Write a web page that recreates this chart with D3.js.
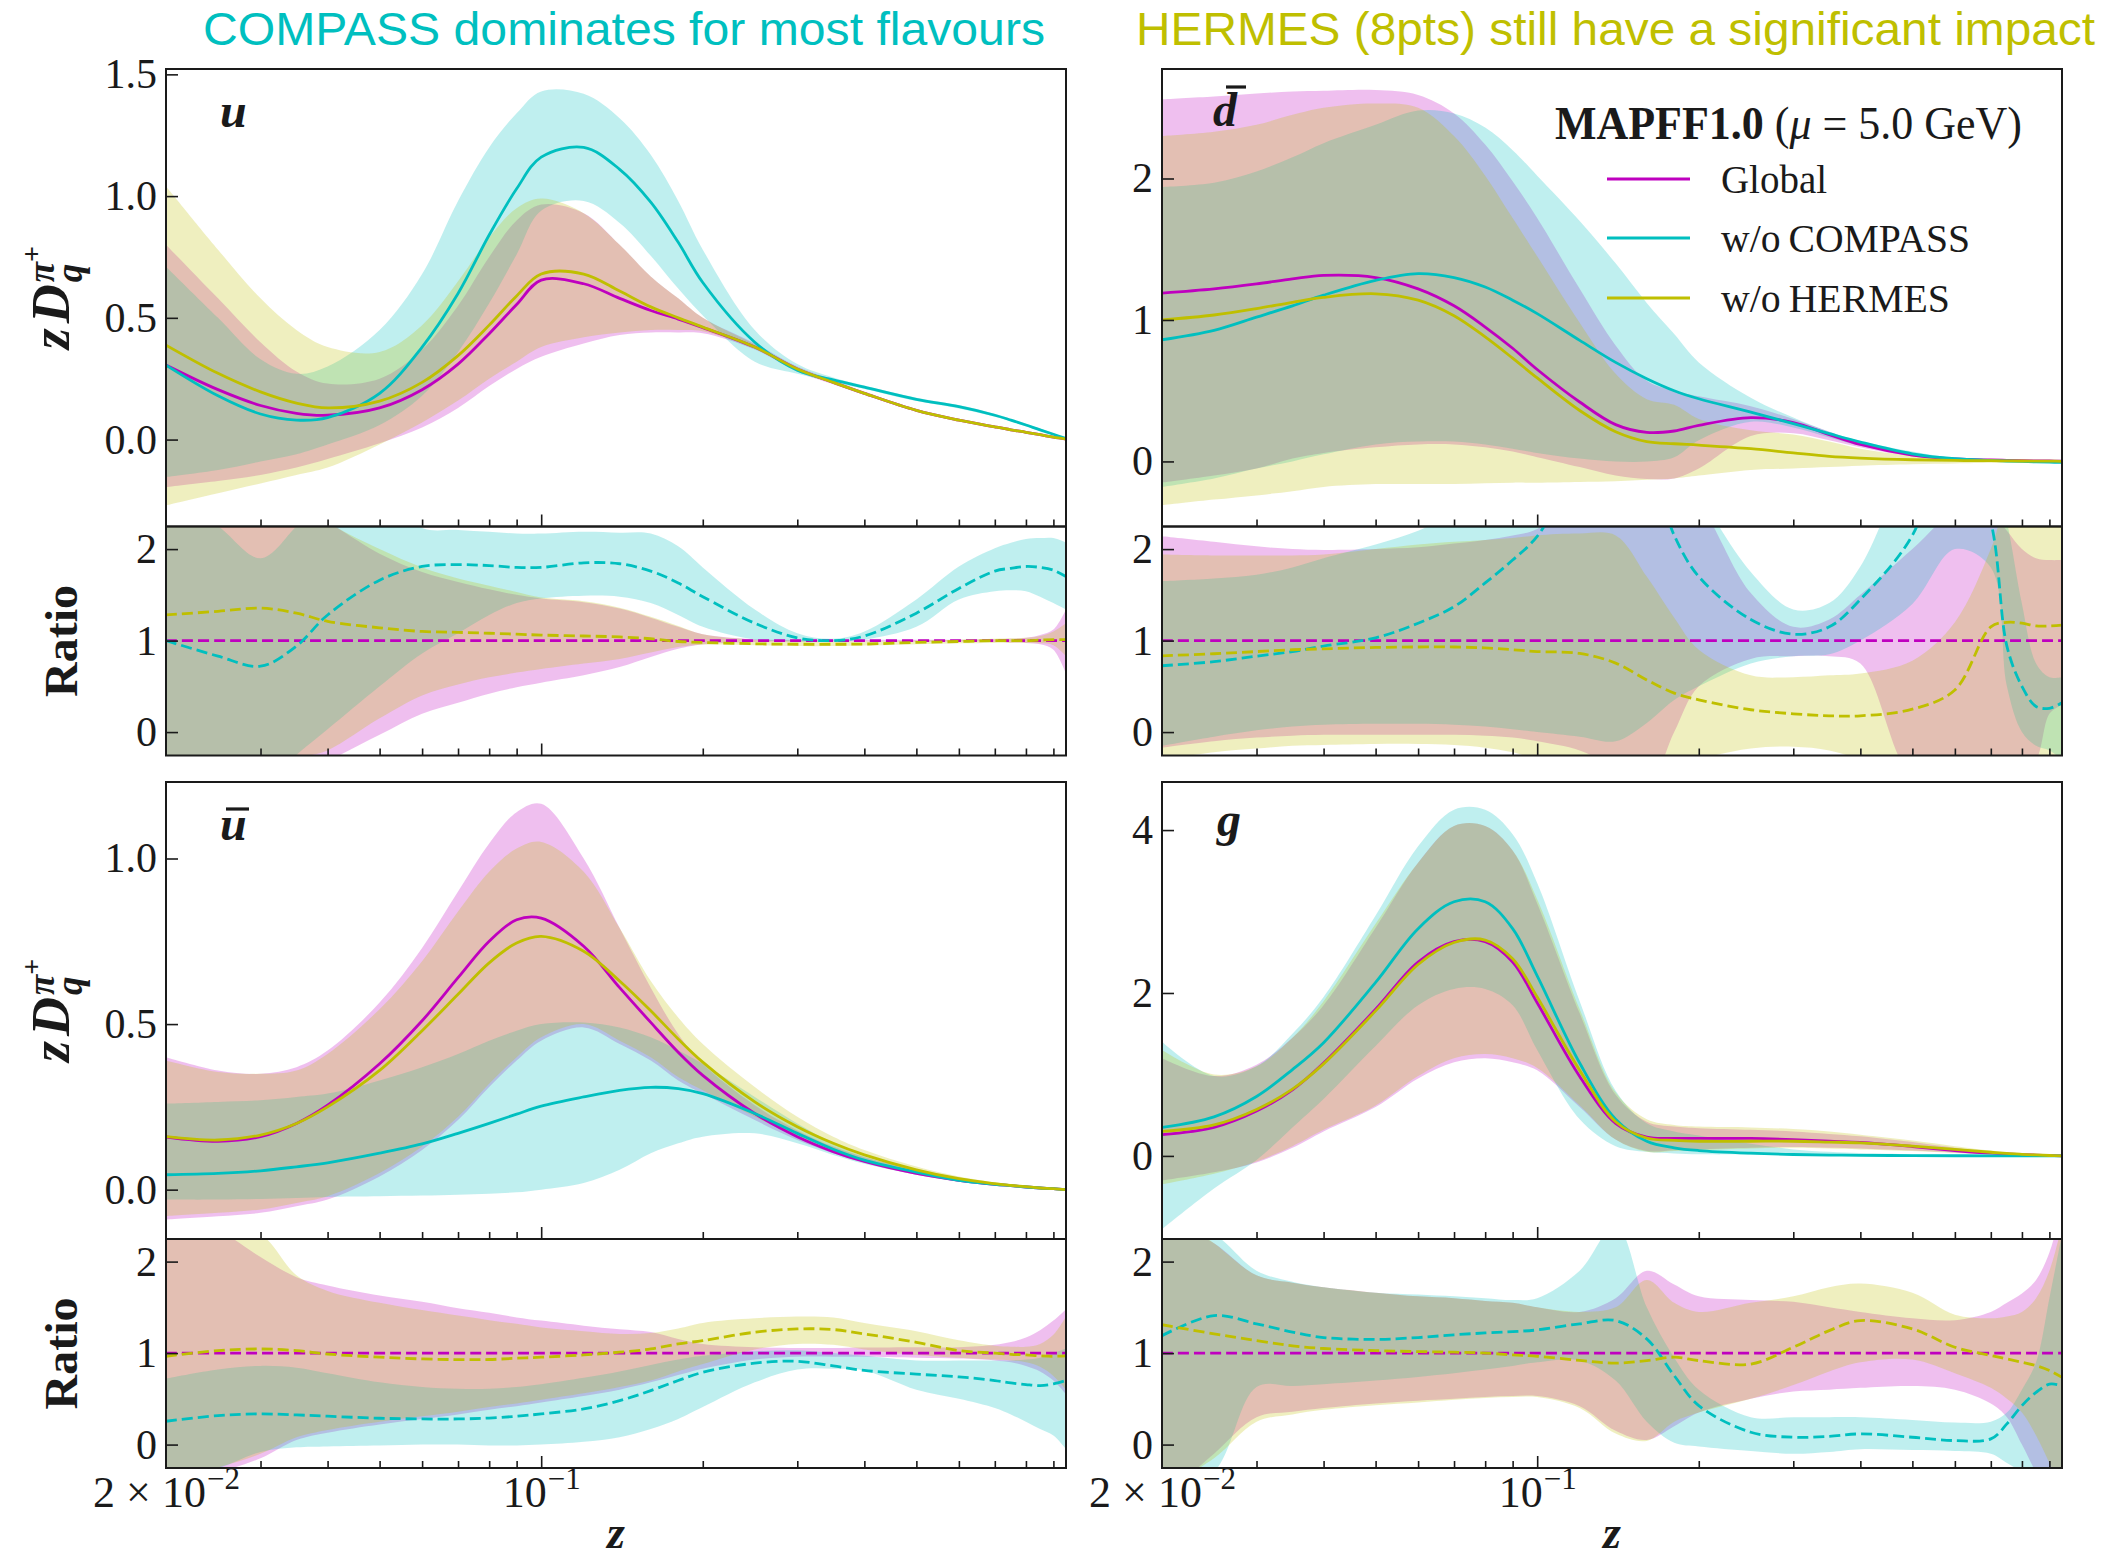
<!DOCTYPE html>
<html>
<head>
<meta charset="utf-8">
<script src="https://cdn.jsdelivr.net/npm/d3@7"></script>
<style>
  html, body { margin: 0; padding: 0; background: #ffffff; }
  svg { display: block; }
</style>
</head>
<body>
<svg id="fig" width="2110" height="1559"></svg>
<script>
// ---------------------------------------------------------------------------
// Sampling grid in z (shared by every curve below)
// ---------------------------------------------------------------------------
const Z = [0.02,0.025,0.03,0.035,0.04,0.05,0.06,0.07,0.08,0.09,0.1,0.12,0.14,0.16,0.18,0.2,0.25,0.3,0.35,0.4,0.5,0.6,0.7,0.75,0.8,0.85,0.9,0.95];

// ---------------------------------------------------------------------------
// u : zD_u^{pi+}  (central value, lower and upper edge of the band)
// ---------------------------------------------------------------------------
const uGlobMid   = [0.306,0.205,0.14,0.108,0.10,0.13,0.205,0.31,0.435,0.555,0.655,0.64,0.58,0.53,0.495,0.46,0.38,0.29,0.235,0.19,0.12,0.08,0.052,0.04,0.03,0.02,0.01,0.002];
const uGlobLo    = [-0.195,-0.17,-0.145,-0.115,-0.08,-0.015,0.05,0.13,0.22,0.29,0.34,0.395,0.43,0.44,0.44,0.437,0.37,0.28,0.227,0.183,0.115,0.077,0.049,0.038,0.028,0.018,0.008,0.001];
const uGlobHi    = [0.80,0.58,0.40,0.28,0.23,0.25,0.37,0.55,0.75,0.90,0.965,0.93,0.80,0.67,0.58,0.50,0.395,0.30,0.245,0.197,0.125,0.083,0.055,0.042,0.032,0.022,0.012,0.003];
const uNoCompMid = [0.306,0.18,0.105,0.08,0.09,0.19,0.38,0.60,0.84,1.03,1.16,1.20,1.11,0.975,0.81,0.645,0.40,0.285,0.245,0.215,0.165,0.135,0.10,0.08,0.06,0.04,0.022,0.004];
const uNoCompLo  = [-0.154,-0.125,-0.09,-0.06,-0.02,0.06,0.18,0.36,0.56,0.76,0.94,0.98,0.89,0.755,0.62,0.51,0.32,0.27,0.235,0.208,0.158,0.128,0.094,0.075,0.055,0.035,0.019,0.003];
const uNoCompHi  = [0.71,0.5,0.33,0.27,0.3,0.45,0.68,0.98,1.2,1.34,1.43,1.42,1.32,1.17,0.98,0.78,0.45,0.31,0.255,0.222,0.172,0.142,0.106,0.085,0.065,0.045,0.025,0.005];
const uNoHermMid = [0.388,0.272,0.196,0.15,0.13,0.158,0.235,0.345,0.47,0.59,0.68,0.68,0.61,0.545,0.50,0.462,0.38,0.29,0.235,0.19,0.12,0.08,0.052,0.04,0.03,0.02,0.01,0.002];
const uNoHermLo  = [-0.27,-0.22,-0.18,-0.145,-0.115,-0.02,0.07,0.16,0.25,0.32,0.38,0.42,0.44,0.45,0.45,0.445,0.372,0.283,0.229,0.185,0.117,0.078,0.05,0.039,0.029,0.019,0.009,0.001];
const uNoHermHi  = [1.04,0.78,0.58,0.45,0.38,0.36,0.47,0.65,0.83,0.95,0.99,0.93,0.80,0.67,0.58,0.50,0.39,0.295,0.24,0.193,0.122,0.082,0.054,0.041,0.031,0.021,0.011,0.003];
// ratios to the global central value
const uGlobRMid   = [1,1,1,1,1,1,1,1,1,1,1,1,1,1,1,1,1,1,1,1,1,1,1,1,1,1,1,1];
const uGlobRLo    = [-0.6,-0.6,-0.6,-0.5,-0.32,-0.03,0.2,0.32,0.42,0.49,0.54,0.62,0.71,0.82,0.91,0.96,0.985,0.99,0.99,0.99,0.99,0.99,0.985,0.98,0.975,0.96,0.9,0.64];
const uGlobRHi    = [2.6,2.6,2.6,2.5,2.3,1.95,1.75,1.64,1.56,1.5,1.46,1.42,1.35,1.25,1.15,1.07,1.015,1.01,1.01,1.01,1.01,1.01,1.015,1.02,1.03,1.06,1.12,1.34];
const uNoCompRMid = [1.0,0.83,0.72,0.94,1.28,1.66,1.81,1.83,1.82,1.80,1.80,1.85,1.84,1.76,1.63,1.48,1.19,1.03,1.0,1.05,1.30,1.57,1.76,1.79,1.81,1.80,1.77,1.70];
const uNoCompRLo  = [-0.6,-0.6,-0.6,-0.25,0.03,0.5,0.86,1.08,1.28,1.41,1.46,1.49,1.48,1.41,1.28,1.15,1.01,0.99,0.99,1.01,1.15,1.45,1.54,1.55,1.54,1.48,1.41,1.34];
const uNoCompRHi  = [2.6,2.25,1.9,2.25,2.6,2.6,2.23,2.21,2.19,2.17,2.17,2.19,2.18,2.17,2.03,1.80,1.34,1.08,1.02,1.10,1.45,1.81,2.01,2.07,2.11,2.12,2.12,2.07];
const uNoHermRMid = [1.28,1.32,1.355,1.30,1.21,1.14,1.10,1.09,1.08,1.07,1.06,1.05,1.04,1.02,0.99,0.98,0.965,0.96,0.96,0.962,0.98,0.99,1.0,1.0,1.0,1.005,1.01,1.01];
const uNoHermRLo  = [-0.6,-0.6,-0.6,-0.3,-0.2,0.15,0.4,0.52,0.6,0.65,0.69,0.75,0.8,0.87,0.93,0.955,0.95,0.94,0.94,0.945,0.96,0.97,0.975,0.975,0.975,0.97,0.95,0.83];
const uNoHermRHi  = [2.6,2.6,2.6,2.6,2.3,2.0,1.8,1.68,1.6,1.53,1.47,1.43,1.36,1.26,1.16,1.07,1.01,1.0,0.99,0.99,1.0,1.01,1.02,1.025,1.03,1.05,1.1,1.19];

// ---------------------------------------------------------------------------
// dbar
// ---------------------------------------------------------------------------
const dGlobMid   = [1.19,1.22,1.255,1.29,1.315,1.30,1.22,1.10,0.95,0.80,0.65,0.42,0.26,0.205,0.215,0.255,0.31,0.275,0.19,0.12,0.045,0.018,0.01,0.008,0.006,0.004,0.003,0.002];
const dGlobLo    = [-0.15,-0.1,-0.05,0.02,0.06,0.1,0.12,0.12,0.1,0.07,0.03,-0.04,-0.1,-0.125,-0.12,-0.05,0.18,0.2,0.15,0.1,0.035,0.012,0.006,0.005,0.004,0.003,0.002,0.001];
const dGlobHi    = [2.56,2.58,2.60,2.615,2.62,2.625,2.59,2.46,2.24,1.98,1.72,1.22,0.82,0.57,0.50,0.46,0.39,0.30,0.21,0.135,0.055,0.022,0.012,0.009,0.007,0.005,0.004,0.003];
const dNoCompMid = [0.86,0.927,1.02,1.10,1.175,1.28,1.328,1.30,1.233,1.14,1.045,0.856,0.70,0.585,0.50,0.443,0.349,0.267,0.196,0.137,0.054,0.019,0.007,0.003,0.0,-0.003,-0.005,-0.007];
const dNoCompLo  = [-0.18,-0.12,-0.05,0.0,0.05,0.12,0.14,0.14,0.12,0.09,0.06,0.02,0.0,0.0,0.03,0.15,0.28,0.24,0.17,0.11,0.04,0.01,0.0,-0.003,-0.005,-0.007,-0.008,-0.008];
const dNoCompHi  = [1.94,1.97,2.05,2.15,2.25,2.38,2.48,2.46,2.36,2.2,2.02,1.7,1.4,1.12,0.9,0.70,0.45,0.31,0.21,0.145,0.07,0.025,0.01,0.006,0.005,0.002,0.0,-0.003];
const dNoHermMid = [1.0,1.035,1.08,1.125,1.16,1.185,1.14,1.03,0.88,0.73,0.59,0.36,0.21,0.14,0.125,0.115,0.09,0.06,0.036,0.024,0.012,0.007,0.005,0.004,0.003,0.002,0.002,0.001];
const dNoHermLo  = [-0.31,-0.27,-0.24,-0.21,-0.18,-0.16,-0.16,-0.16,-0.155,-0.15,-0.15,-0.145,-0.14,-0.13,-0.12,-0.1,-0.06,-0.05,-0.04,-0.03,-0.02,-0.015,-0.01,-0.008,-0.007,-0.005,-0.004,-0.003];
const dNoHermHi  = [2.30,2.33,2.38,2.45,2.50,2.53,2.50,2.30,2.02,1.72,1.45,0.98,0.62,0.44,0.40,0.30,0.22,0.19,0.14,0.09,0.04,0.018,0.01,0.008,0.006,0.004,0.003,0.002];
const dGlobRMid   = [1,1,1,1,1,1,1,1,1,1,1,1,1,1,1,1,1,1,1,1,1,1,1,1,1,1,1,1];
const dGlobRLo    = [-0.17,-0.1,-0.06,-0.04,-0.03,-0.03,-0.03,-0.03,-0.04,-0.06,-0.1,-0.2,-0.4,-0.6,0.0,0.5,0.8,0.83,0.83,0.75,-0.5,-0.6,-0.6,-0.5,-0.4,-0.3,0.2,0.3];
const dGlobRHi    = [2.14,2.08,2.03,2.0,1.99,2.0,2.02,2.06,2.1,2.15,2.22,2.6,3.0,3.0,2.7,2.5,1.52,1.15,1.23,1.5,2.0,2.4,2.4,2.2,2.0,1.9,1.88,1.88];
const dNoCompRMid = [0.725,0.77,0.83,0.88,0.94,1.03,1.19,1.37,1.63,1.88,2.14,2.9,3.3,3.0,2.15,1.70,1.23,1.07,1.15,1.45,2.15,3.4,2.3,0.94,0.5,0.28,0.26,0.32];
const dNoCompRLo  = [-0.15,-0.05,0.02,0.06,0.08,0.09,0.09,0.08,0.06,0.03,0.0,-0.05,-0.1,0.1,0.35,0.5,0.75,0.83,0.85,1.0,1.4,2.0,1.8,0.5,0.0,-0.15,-0.2,-0.3];
const dNoCompRHi  = [1.65,1.68,1.72,1.8,1.9,2.05,2.2,2.4,2.6,2.8,3.0,3.2,3.4,3.4,3.0,2.6,1.75,1.34,1.41,1.81,3.0,3.5,3.0,2.3,1.4,0.75,0.6,0.6];
const dNoHermRMid = [0.834,0.856,0.88,0.90,0.91,0.925,0.93,0.93,0.92,0.90,0.88,0.86,0.754,0.57,0.426,0.353,0.244,0.20,0.178,0.178,0.25,0.46,1.15,1.20,1.19,1.16,1.16,1.17];
const dNoHermRLo  = [-0.3,-0.22,-0.18,-0.15,-0.14,-0.13,-0.13,-0.14,-0.17,-0.22,-0.3,-0.4,-0.5,-0.5,-0.4,-0.3,-0.18,-0.16,-0.2,-0.3,-0.5,-0.6,-0.5,-0.4,-0.4,-0.4,-0.4,-0.4];
const dNoHermRHi  = [1.94,1.93,1.93,1.93,1.94,2.0,2.05,2.08,2.1,2.12,2.15,2.17,2.15,1.7,1.25,0.9,0.62,0.6,0.62,0.64,0.78,1.2,2.0,2.5,2.6,2.6,2.6,2.5];

// ---------------------------------------------------------------------------
// ubar
// ---------------------------------------------------------------------------
const ubGlobMid   = [0.159,0.146,0.16,0.2,0.255,0.38,0.51,0.64,0.75,0.815,0.82,0.735,0.61,0.505,0.415,0.345,0.23,0.16,0.115,0.085,0.049,0.028,0.016,0.012,0.008,0.005,0.003,0.0];
const ubGlobLo    = [-0.09,-0.08,-0.07,-0.05,-0.03,0.04,0.12,0.21,0.31,0.39,0.45,0.49,0.44,0.39,0.33,0.29,0.21,0.15,0.11,0.082,0.045,0.025,0.013,0.01,0.006,0.003,0.002,0.0];
const ubGlobHi    = [0.40,0.36,0.35,0.37,0.42,0.565,0.73,0.90,1.045,1.14,1.165,1.0,0.79,0.61,0.47,0.38,0.255,0.179,0.13,0.098,0.061,0.037,0.02,0.016,0.012,0.008,0.004,0.001];
const ubNoCompMid = [0.045,0.049,0.057,0.069,0.081,0.11,0.138,0.17,0.2,0.228,0.252,0.28,0.30,0.309,0.305,0.29,0.23,0.17,0.122,0.089,0.053,0.028,0.016,0.012,0.008,0.005,0.003,0.0];
const ubNoCompLo  = [-0.03,-0.03,-0.028,-0.025,-0.022,-0.02,-0.018,-0.015,-0.012,-0.008,0.0,0.02,0.06,0.11,0.14,0.16,0.17,0.14,0.105,0.078,0.045,0.024,0.013,0.01,0.006,0.003,0.002,0.0];
const ubNoCompHi  = [0.26,0.265,0.27,0.28,0.29,0.33,0.37,0.41,0.45,0.48,0.50,0.505,0.49,0.46,0.42,0.38,0.28,0.2,0.14,0.1,0.06,0.033,0.018,0.013,0.009,0.005,0.003,0.001];
const ubNoHermMid = [0.16,0.15,0.165,0.2,0.25,0.36,0.48,0.59,0.685,0.745,0.765,0.72,0.63,0.54,0.455,0.385,0.265,0.19,0.14,0.105,0.06,0.033,0.018,0.013,0.009,0.005,0.003,0.0];
const ubNoHermLo  = [-0.08,-0.07,-0.06,-0.04,-0.02,0.05,0.13,0.22,0.32,0.40,0.46,0.50,0.45,0.40,0.34,0.30,0.22,0.16,0.12,0.09,0.05,0.028,0.015,0.01,0.007,0.004,0.002,0.0];
const ubNoHermHi  = [0.39,0.355,0.35,0.36,0.41,0.545,0.69,0.84,0.96,1.03,1.05,0.96,0.79,0.63,0.52,0.44,0.31,0.22,0.16,0.12,0.07,0.04,0.022,0.015,0.01,0.006,0.003,0.0];
const ubGlobRMid   = [1,1,1,1,1,1,1,1,1,1,1,1,1,1,1,1,1,1,1,1,1,1,1,1,1,1,1,1];
const ubGlobRLo    = [-0.4,-0.3,-0.15,0.05,0.13,0.22,0.28,0.33,0.38,0.42,0.46,0.53,0.6,0.68,0.76,0.83,0.93,0.96,0.96,0.96,0.95,0.94,0.92,0.9,0.86,0.8,0.7,0.55];
const ubGlobRHi    = [2.6,2.35,2.05,1.83,1.74,1.63,1.56,1.49,1.44,1.39,1.355,1.30,1.26,1.23,1.155,1.10,1.064,1.056,1.055,1.06,1.064,1.064,1.09,1.12,1.17,1.25,1.355,1.48];
const ubNoCompRMid = [0.255,0.317,0.335,0.324,0.31,0.288,0.28,0.28,0.29,0.31,0.335,0.39,0.48,0.59,0.70,0.79,0.89,0.91,0.86,0.81,0.77,0.74,0.70,0.674,0.656,0.645,0.663,0.70];
const ubNoCompRLo  = [-0.4,-0.26,-0.08,-0.03,-0.02,-0.01,0.0,0.0,-0.01,-0.01,0.0,0.03,0.08,0.17,0.28,0.41,0.68,0.82,0.83,0.81,0.6,0.5,0.4,0.33,0.25,0.17,0.1,-0.05];
const ubNoCompRHi  = [0.72,0.82,0.86,0.84,0.78,0.68,0.63,0.61,0.61,0.63,0.66,0.73,0.8,0.87,0.93,0.97,1.02,1.03,1.0,0.97,0.92,0.92,0.92,0.92,0.93,0.95,1.0,1.05];
const ubNoHermRMid = [0.965,1.027,1.045,1.027,0.99,0.955,0.936,0.929,0.93,0.944,0.955,0.98,1.01,1.045,1.10,1.137,1.228,1.264,1.257,1.21,1.118,1.027,1.0,0.987,0.98,0.97,0.965,0.97];
const ubNoHermRLo  = [-0.4,-0.25,-0.1,0.08,0.16,0.25,0.31,0.36,0.41,0.45,0.49,0.56,0.63,0.7,0.8,0.88,1.04,1.1,1.09,1.04,0.98,0.95,0.93,0.92,0.9,0.85,0.75,0.6];
const ubNoHermRHi  = [2.6,2.4,2.3,1.85,1.68,1.55,1.47,1.41,1.36,1.32,1.28,1.24,1.21,1.22,1.27,1.33,1.38,1.40,1.39,1.33,1.24,1.14,1.08,1.07,1.07,1.1,1.2,1.4];

// ---------------------------------------------------------------------------
// g
// ---------------------------------------------------------------------------
const gGlobMid   = [0.26,0.35,0.55,0.81,1.14,1.80,2.38,2.63,2.63,2.38,1.88,0.975,0.40,0.23,0.215,0.215,0.215,0.2,0.18,0.165,0.115,0.066,0.033,0.025,0.017,0.01,0.004,0.0];
const gGlobLo    = [-0.3,-0.2,-0.08,0.1,0.3,0.6,0.95,1.15,1.2,1.15,1.05,0.6,0.2,0.06,0.07,0.08,0.1,0.11,0.1,0.09,0.065,0.04,0.02,0.013,0.008,0.004,0.002,0.0];
const gGlobHi    = [1.2,0.98,1.12,1.45,1.85,2.8,3.6,4.05,4.05,3.75,3.1,1.75,0.75,0.42,0.36,0.34,0.32,0.3,0.27,0.24,0.17,0.1,0.05,0.035,0.022,0.014,0.007,0.002];
const gNoCompMid = [0.35,0.48,0.73,1.06,1.39,2.13,2.79,3.12,3.12,2.79,2.21,1.14,0.45,0.18,0.1,0.066,0.033,0.017,0.01,0.007,0.004,0.002,0.001,0.0,0.0,0.0,0.0,0.0];
const gNoCompLo  = [-0.9,-0.4,-0.05,0.35,0.7,1.35,1.85,2.05,2.05,1.85,1.3,0.45,0.12,0.05,0.03,0.02,0.015,0.01,0.008,0.006,0.004,0.003,0.002,0.001,0.0,0.0,0.0,0.0];
const gNoCompHi  = [1.4,0.98,1.1,1.5,1.95,2.95,3.8,4.25,4.25,3.95,3.35,1.9,0.8,0.4,0.3,0.25,0.15,0.08,0.05,0.035,0.02,0.012,0.006,0.004,0.003,0.002,0.001,0.0];
const gNoHermMid = [0.3,0.38,0.57,0.82,1.13,1.78,2.35,2.62,2.65,2.42,1.95,1.05,0.42,0.22,0.19,0.18,0.18,0.18,0.17,0.16,0.12,0.08,0.045,0.03,0.02,0.012,0.005,0.0];
const gNoHermLo  = [-0.35,-0.22,-0.07,0.12,0.32,0.62,0.98,1.2,1.25,1.2,1.08,0.62,0.2,0.05,0.06,0.07,0.09,0.1,0.09,0.08,0.06,0.035,0.018,0.012,0.007,0.004,0.002,0.0];
const gNoHermHi  = [1.3,1.0,1.1,1.45,1.9,2.85,3.6,4.05,4.05,3.75,3.15,1.8,0.78,0.45,0.38,0.36,0.35,0.33,0.3,0.26,0.19,0.12,0.065,0.045,0.03,0.018,0.008,0.002];
const gGlobRMid   = [1,1,1,1,1,1,1,1,1,1,1,1,1,1,1,1,1,1,1,1,1,1,1,1,1,1,1,1];
const gGlobRLo    = [-0.6,-0.1,0.3,0.36,0.4,0.45,0.48,0.5,0.52,0.53,0.53,0.42,0.15,0.05,0.2,0.35,0.5,0.58,0.6,0.62,0.64,0.6,0.45,0.3,0.0,-0.3,-0.5,-0.5];
const gGlobRHi    = [2.5,2.2,1.85,1.77,1.72,1.66,1.62,1.6,1.57,1.55,1.5,1.45,1.6,1.9,1.75,1.62,1.58,1.56,1.5,1.45,1.38,1.36,1.45,1.55,1.65,1.8,2.1,2.6];
const gNoCompRMid = [1.19,1.41,1.32,1.23,1.17,1.15,1.17,1.2,1.22,1.235,1.253,1.32,1.355,1.155,0.754,0.426,0.135,0.08,0.09,0.117,0.08,0.044,0.062,0.226,0.426,0.57,0.66,0.645];
const gNoCompRLo  = [-0.6,-0.3,0.63,0.64,0.66,0.7,0.74,0.78,0.82,0.86,0.9,0.92,0.7,0.25,0.02,-0.02,-0.07,-0.1,-0.08,-0.05,-0.06,-0.07,-0.1,-0.2,-0.3,-0.4,-0.5,-0.5];
const gNoCompRHi  = [2.5,2.3,1.9,1.78,1.72,1.66,1.64,1.62,1.6,1.58,1.6,1.9,2.4,1.5,0.95,0.6,0.3,0.3,0.3,0.3,0.27,0.24,0.25,0.35,0.6,0.9,1.6,2.3];
const gNoHermRMid = [1.31,1.21,1.137,1.08,1.05,1.027,1.016,1.01,1.0,0.98,0.965,0.92,0.89,0.918,0.955,0.918,0.88,1.064,1.246,1.355,1.264,1.064,0.973,0.936,0.9,0.863,0.81,0.735];
const gNoHermRLo  = [-0.5,-0.15,0.25,0.33,0.38,0.43,0.46,0.49,0.51,0.52,0.52,0.4,0.12,0.04,0.25,0.35,0.5,0.65,0.8,0.9,0.93,0.78,0.62,0.5,0.35,0.1,-0.2,-0.5];
const gNoHermRHi  = [2.6,2.2,1.85,1.77,1.72,1.66,1.62,1.6,1.57,1.55,1.5,1.45,1.5,1.8,1.55,1.45,1.55,1.62,1.72,1.76,1.66,1.42,1.38,1.4,1.45,1.6,1.9,2.4];

// ---------------------------------------------------------------------------
// Axis ticks and labels
// ---------------------------------------------------------------------------
const X_DOMAIN = [0.02, 0.95];
const X_MAJOR = [0.1];
const X_MINOR = [0.03,0.04,0.05,0.06,0.07,0.08,0.09,0.2,0.3,0.4,0.5,0.6,0.7,0.8,0.9];
const RATIO_TICKS = [0, 1, 2];
const RATIO_DOMAIN = [-0.256, 2.247];

const SERIES_KEYS = ['glob', 'nocomp', 'noherm'];
const COLORS = { glob: '#bf00bf', nocomp: '#00bfbf', noherm: '#bfbf00' };
const LEGEND_NAMES = ['Global', 'w/o\u2009COMPASS', 'w/o\u2009HERMES'];

const SERIF = '"Liberation Serif", "DejaVu Serif", serif';
const SANS = '"Liberation Sans", Arial, sans-serif';
const INK = '#1a1a1a';

// panel geometry
const COLS = [[166, 1066], [1162, 2062]];
const ROWS = [
  { main: [69, 526.5], ratio: [526.5, 755.5] },
  { main: [782, 1239], ratio: [1239, 1468] }
];

const svg = d3.select('#fig');
svg.append('rect').attr('width', 2110).attr('height', 1559).attr('fill', '#ffffff');

const PANELS = [
  { col: 0, row: 0, yDomain: [-0.357, 1.522], yTicks: [0, 0.5, 1.0, 1.5], yFmt: '.1f',
    main:  { glob: [uGlobMid, uGlobLo, uGlobHi], nocomp: [uNoCompMid, uNoCompLo, uNoCompHi], noherm: [uNoHermMid, uNoHermLo, uNoHermHi] },
    ratio: { glob: [uGlobRMid, uGlobRLo, uGlobRHi], nocomp: [uNoCompRMid, uNoCompRLo, uNoCompRHi], noherm: [uNoHermRMid, uNoHermRLo, uNoHermRHi] } },
  { col: 1, row: 0, yDomain: [-0.46, 2.774], yTicks: [0, 1, 2], yFmt: 'd',
    main:  { glob: [dGlobMid, dGlobLo, dGlobHi], nocomp: [dNoCompMid, dNoCompLo, dNoCompHi], noherm: [dNoHermMid, dNoHermLo, dNoHermHi] },
    ratio: { glob: [dGlobRMid, dGlobRLo, dGlobRHi], nocomp: [dNoCompRMid, dNoCompRLo, dNoCompRHi], noherm: [dNoHermRMid, dNoHermRLo, dNoHermRHi] } },
  { col: 0, row: 1, yDomain: [-0.149, 1.231], yTicks: [0, 0.5, 1.0], yFmt: '.1f',
    main:  { glob: [ubGlobMid, ubGlobLo, ubGlobHi], nocomp: [ubNoCompMid, ubNoCompLo, ubNoCompHi], noherm: [ubNoHermMid, ubNoHermLo, ubNoHermHi] },
    ratio: { glob: [ubGlobRMid, ubGlobRLo, ubGlobRHi], nocomp: [ubNoCompRMid, ubNoCompRLo, ubNoCompRHi], noherm: [ubNoHermRMid, ubNoHermRLo, ubNoHermRHi] } },
  { col: 1, row: 1, yDomain: [-1.02, 4.59], yTicks: [0, 2, 4], yFmt: 'd',
    main:  { glob: [gGlobMid, gGlobLo, gGlobHi], nocomp: [gNoCompMid, gNoCompLo, gNoCompHi], noherm: [gNoHermMid, gNoHermLo, gNoHermHi] },
    ratio: { glob: [gGlobRMid, gGlobRLo, gGlobRHi], nocomp: [gNoCompRMid, gNoCompRLo, gNoCompRHi], noherm: [gNoHermRMid, gNoHermRLo, gNoHermRHi] } }
];

let clipCount = 0;
const IDX = d3.range(Z.length);
const CURVE = d3.curveCatmullRom.alpha(0.5);

function drawPanel(x0, x1, y0, y1, yDomain, yTicks, yFmt, data, dashed) {
  const x = d3.scaleLog().domain(X_DOMAIN).range([x0, x1]);
  const y = d3.scaleLinear().domain(yDomain).range([y1, y0]);

  const clipId = 'panel-clip-' + (clipCount++);
  svg.append('clipPath').attr('id', clipId)
    .append('rect').attr('x', x0).attr('y', y0).attr('width', x1 - x0).attr('height', y1 - y0);
  const g = svg.append('g').attr('clip-path', `url(#${clipId})`);

  // uncertainty bands
  SERIES_KEYS.forEach(k => {
    const [, lo, hi] = data[k];
    const area = d3.area()
      .x(i => x(Z[i])).y0(i => y(lo[i])).y1(i => y(hi[i]))
      .curve(CURVE);
    g.append('path').attr('d', area(IDX))
      .attr('fill', COLORS[k]).attr('fill-opacity', 0.25).attr('stroke', 'none');
  });
  // central values
  SERIES_KEYS.forEach(k => {
    const [mid] = data[k];
    const line = d3.line().x(i => x(Z[i])).y(i => y(mid[i])).curve(CURVE);
    g.append('path').attr('d', line(IDX))
      .attr('fill', 'none').attr('stroke', COLORS[k]).attr('stroke-width', 2.8)
      .attr('stroke-dasharray', dashed ? '11,5' : null);
  });

  // x ticks (inward)
  const xMajor = svg.append('g').attr('transform', `translate(0,${y1})`)
    .call(d3.axisBottom(x).tickValues(X_MAJOR).tickSizeInner(-12).tickSizeOuter(0).tickFormat(() => ''));
  const xMinor = svg.append('g').attr('transform', `translate(0,${y1})`)
    .call(d3.axisBottom(x).tickValues(X_MINOR).tickSizeInner(-7).tickSizeOuter(0).tickFormat(() => ''));
  [xMajor, xMinor].forEach(a => {
    a.select('.domain').remove();
    a.selectAll('text').remove();
    a.selectAll('line').attr('stroke', INK).attr('stroke-width', 1.6);
  });

  // y ticks with labels
  const yAxis = svg.append('g').attr('transform', `translate(${x0},0)`)
    .call(d3.axisLeft(y).tickValues(yTicks).tickSizeInner(-12).tickSizeOuter(0).tickPadding(9)
      .tickFormat(d3.format(yFmt)));
  yAxis.select('.domain').remove();
  yAxis.selectAll('line').attr('stroke', INK).attr('stroke-width', 1.6);
  yAxis.attr('font-family', SERIF).attr('font-size', 42);
  yAxis.selectAll('text').attr('fill', INK);

  // frame
  svg.append('rect').attr('x', x0).attr('y', y0).attr('width', x1 - x0).attr('height', y1 - y0)
    .attr('fill', 'none').attr('stroke', INK).attr('stroke-width', 2);
  return x;
}

// power-of-ten tick label: mantissa text plus a raised exponent, centred on xc
function powerLabel(xc, base, mant, exp) {
  const g = svg.append('g').attr('font-family', SERIF).attr('fill', INK);
  const m = g.append('text').attr('y', base).attr('font-size', 44).text(mant);
  const e = g.append('text').attr('y', base - 18).attr('font-size', 31).text(exp);
  const wm = m.node().getComputedTextLength();
  const we = e.node().getComputedTextLength();
  const start = xc - (wm + we) / 2;
  m.attr('x', start);
  e.attr('x', start + wm + 1);
}

PANELS.forEach(p => {
  const [x0, x1] = COLS[p.col];
  const r = ROWS[p.row];
  drawPanel(x0, x1, r.main[0], r.main[1], p.yDomain, p.yTicks, p.yFmt, p.main, false);
  const xr = drawPanel(x0, x1, r.ratio[0], r.ratio[1], RATIO_DOMAIN, RATIO_TICKS, 'd', p.ratio, true);

  // z tick labels under the bottom row
  if (p.row === 1) {
    powerLabel(xr(0.02), 1507, '2\u2005\u00d7\u200510', '\u22122');
    powerLabel(xr(0.1), 1507, '10', '\u22121');
    svg.append('text').attr('x', (x0 + x1) / 2).attr('y', 1548)
      .attr('text-anchor', 'middle').attr('font-family', SERIF).attr('font-size', 46)
      .attr('font-weight', 'bold').attr('font-style', 'italic').attr('fill', INK).text('z');
  }
});

// ---------------------------------------------------------------------------
// Flavour labels inside the main panels
// ---------------------------------------------------------------------------
function flavourLabel(x, y, letter, bar) {
  svg.append('text').attr('x', x).attr('y', y)
    .attr('font-family', SERIF).attr('font-size', 48).attr('font-weight', 'bold').attr('font-style', 'italic')
    .attr('fill', INK).text(letter);
  if (bar) {
    svg.append('line').attr('x1', bar[0]).attr('x2', bar[1]).attr('y1', bar[2]).attr('y2', bar[2])
      .attr('stroke', INK).attr('stroke-width', 3.2);
  }
}
flavourLabel(220, 127, 'u', null);
flavourLabel(1213, 126, 'd', [1226, 1246, 87]);
flavourLabel(220, 840, 'u', [226, 249, 809]);
flavourLabel(1217, 836, 'g', null);

// ---------------------------------------------------------------------------
// Y-axis titles
// ---------------------------------------------------------------------------
function zdLabel(cx, cy) {
  const g = svg.append('g').attr('transform', `translate(${cx},${cy}) rotate(-90)`)
    .attr('font-family', SERIF).attr('font-weight', 'bold').attr('font-style', 'italic').attr('fill', INK);
  const z = g.append('text').attr('font-size', 54).text('z');
  const D = g.append('text').attr('font-size', 54).text('D');
  const wz = z.node().getComputedTextLength();
  const wD = D.node().getComputedTextLength();
  const sub = g.append('text').attr('font-size', 37).attr('y', 13).text('q');
  const sup = g.append('text').attr('font-size', 37).attr('y', -15).text('\u03c0');
  const plus = g.append('text').attr('font-size', 28).attr('y', -28).text('+');
  const wSub = sub.node().getComputedTextLength();
  const wPi = sup.node().getComputedTextLength();
  const wPlus = plus.node().getComputedTextLength();
  const L = wz + 5 + wD;
  const total = L + 2 + Math.max(wSub, wPi + wPlus);
  const start = -total / 2;
  z.attr('x', start);
  D.attr('x', start + wz + 5);
  sub.attr('x', start + L + 2);
  sup.attr('x', start + L + 2);
  plus.attr('x', start + L + 2 + wPi);
}
function ratioLabel(cx, cy) {
  svg.append('text').attr('transform', `translate(${cx},${cy}) rotate(-90)`)
    .attr('text-anchor', 'middle').attr('font-family', SERIF).attr('font-weight', 'bold')
    .attr('font-size', 46).attr('fill', INK)
    .attr('textLength', 112).attr('lengthAdjust', 'spacingAndGlyphs').text('Ratio');
}
ROWS.forEach(r => {
  zdLabel(69, (r.main[0] + r.main[1]) / 2);
  ratioLabel(77, (r.ratio[0] + r.ratio[1]) / 2);
});

// ---------------------------------------------------------------------------
// Column titles
// ---------------------------------------------------------------------------
svg.append('text').attr('x', 203).attr('y', 45)
  .attr('font-family', SANS).attr('font-size', 46).attr('fill', COLORS.nocomp)
  .attr('textLength', 842).attr('lengthAdjust', 'spacingAndGlyphs')
  .text('COMPASS dominates for most flavours');
svg.append('text').attr('x', 1136).attr('y', 45)
  .attr('font-family', SANS).attr('font-size', 46).attr('fill', COLORS.noherm)
  .attr('textLength', 959).attr('lengthAdjust', 'spacingAndGlyphs')
  .text('HERMES (8pts) still have a significant impact');

// ---------------------------------------------------------------------------
// Legend
// ---------------------------------------------------------------------------
{
  const parts = [
    { t: 'MAPFF1.0', w: 'bold', s: 'normal' },
    { t: '\u00a0(', w: 'normal', s: 'normal' },
    { t: '\u03bc', w: 'normal', s: 'italic' },
    { t: '\u00a0=\u00a05.0\u00a0GeV)', w: 'normal', s: 'normal' }
  ];
  const g = svg.append('g').attr('font-family', SERIF).attr('fill', INK);
  const nodes = parts.map(p => g.append('text').attr('y', 139).attr('font-size', 46)
    .attr('font-weight', p.w).attr('font-style', p.s).text(p.t));
  const widths = nodes.map(n => n.node().getComputedTextLength());
  const total = d3.sum(widths);
  const k = 467 / total;
  let cx = 0;
  nodes.forEach((n, i) => {
    n.attr('x', cx);
    cx += widths[i];
  });
  g.attr('transform', `translate(1555,0) scale(${k},1)`);
}

const LEG_Y = [179, 238, 298];
const LEG_W = [106, 249, 229];
SERIES_KEYS.forEach((k, i) => {
  svg.append('line').attr('x1', 1607).attr('x2', 1690).attr('y1', LEG_Y[i]).attr('y2', LEG_Y[i])
    .attr('stroke', COLORS[k]).attr('stroke-width', 3);
  svg.append('text').attr('x', 1721).attr('y', LEG_Y[i] + 14)
    .attr('font-family', SERIF).attr('font-size', 40).attr('fill', INK)
    .attr('textLength', LEG_W[i]).attr('lengthAdjust', 'spacingAndGlyphs')
    .text(LEGEND_NAMES[i]);
});
</script>
</body>
</html>
